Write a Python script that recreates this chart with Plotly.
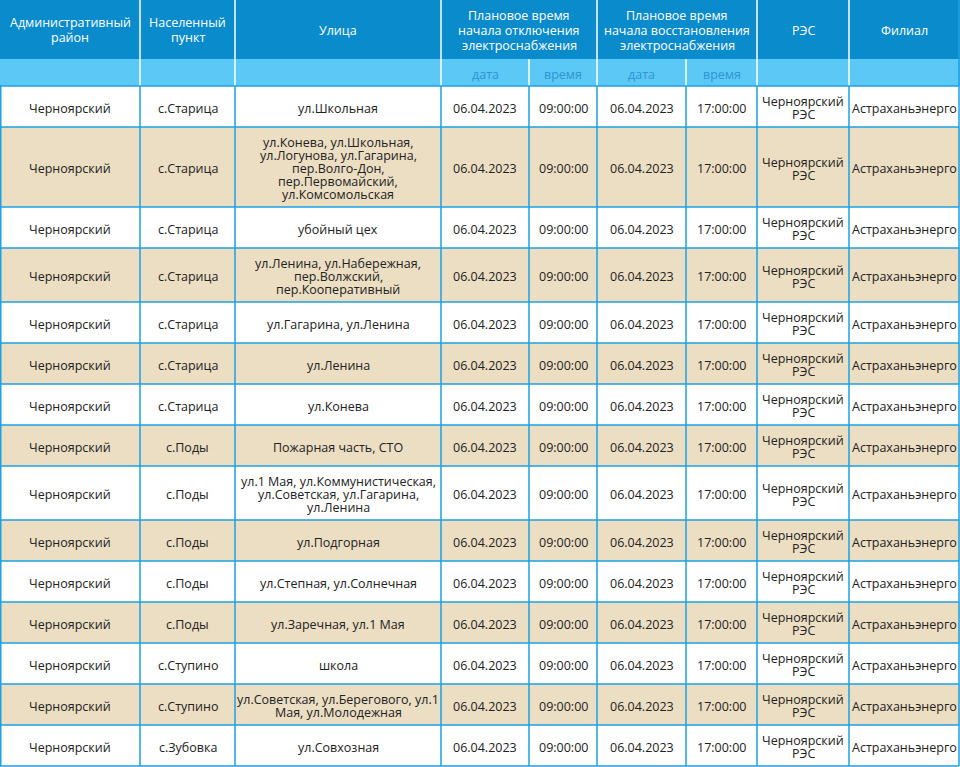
import plotly.graph_objects as go

# ---------------- data ----------------
headers = ["Административный<br>район", "Населенный<br>пункт", "Улица",
           "Плановое время<br>начала отключения<br>электроснабжения",
           "Плановое время<br>начала восстановления<br>электроснабжения",
           "РЭС", "Филиал"]
subheaders = ["", "", "", "дата", "время", "дата", "время", "", ""]

districts = ["Черноярский"] * 15
settlements = ["с.Старица"] * 7 + ["с.Поды"] * 5 + ["с.Ступино"] * 2 + ["с.Зубовка"]
streets = [
    "ул.Школьная",
    "ул.Конева, ул.Школьная,<br>ул.Логунова, ул.Гагарина,<br>пер.Волго-Дон,<br>пер.Первомайский,<br>ул.Комсомольская",
    "убойный цех",
    "ул.Ленина, ул.Набережная,<br>пер.Волжский,<br>пер.Кооперативный",
    "ул.Гагарина, ул.Ленина",
    "ул.Ленина",
    "ул.Конева",
    "Пожарная часть, СТО",
    "ул.1 Мая, ул.Коммунистическая,<br>ул.Советская, ул.Гагарина,<br>ул.Ленина",
    "ул.Подгорная",
    "ул.Степная, ул.Солнечная",
    "ул.Заречная, ул.1 Мая",
    "школа",
    "ул.Советская, ул.Берегового, ул.1<br>Мая, ул.Молодежная",
    "ул.Совхозная",
]
off_dates = ["06.04.2023"] * 15
off_times = ["09:00:00"] * 15
on_dates = ["06.04.2023"] * 15
on_times = ["17:00:00"] * 15
res = ["Черноярский<br>РЭС"] * 15
branch = ["Астраханьэнерго"] * 15

# ---------------- layout constants ----------------
W, H = 960, 767
col_edges = [0, 140, 235, 441, 529, 597, 686, 757, 849, 959]
HEAD_BOTTOM = 59
SUB_BOTTOM = 86
LINE_H = 13
TEXT_DY = 1.5
HEAD_BG = "#0a8bcb"
SUB_BG = "#5bc8f5"
BORDER = "#1ba1e4"
BEIGE = "#ecdec2"
TXT = "#222222"
SUB_TXT = "#2f95d3"
FONT = "Open Sans"
FS = 12.5

columns = [districts, settlements, streets, off_dates, off_times, on_dates, on_times, res, branch]

# row heights from number of text lines
row_tops = []
row_heights = []
y = SUB_BOTTOM
for i in range(len(districts)):
    n = max(max(len(c[i].split("<br>")) for c in columns), 2)
    h = 41 + (n - 2) * LINE_H
    row_tops.append(y)
    row_heights.append(h)
    y += h
BOTTOM = y

shapes = []
annotations = []


def add_text(x, yc, text, color, size=FS, lh=LINE_H):
    lines = text.split("<br>")
    n = len(lines)
    for k, ln in enumerate(lines):
        annotations.append(dict(x=x, y=yc + TEXT_DY + (k - (n - 1) / 2) * lh, text=ln, showarrow=False,
                                xref="x", yref="y", xanchor="center", yanchor="middle",
                                borderpad=0,
                                font=dict(family=FONT, size=size, color=color)))


# header backgrounds
shapes.append(dict(type="rect", x0=0, x1=W, y0=0, y1=HEAD_BOTTOM, fillcolor=HEAD_BG, line_width=0, layer="below"))
shapes.append(dict(type="rect", x0=0, x1=W, y0=HEAD_BOTTOM, y1=SUB_BOTTOM, fillcolor=SUB_BG, line_width=0, layer="below"))

# row backgrounds
for i, (t, h) in enumerate(zip(row_tops, row_heights)):
    shapes.append(dict(type="rect", x0=0, x1=W, y0=t, y1=t + h,
                       fillcolor=("white" if i % 2 == 0 else BEIGE), line_width=0, layer="below"))

# header column separators (white)
head_spans = [(0, 1), (1, 2), (2, 3), (3, 5), (5, 7), (7, 8), (8, 9)]
for a, b in head_spans[1:]:
    xe = col_edges[a]
    shapes.append(dict(type="line", x0=xe, x1=xe, y0=0, y1=SUB_BOTTOM, line=dict(color="white", width=1.5)))
for idx in (4, 6):
    xe = col_edges[idx]
    shapes.append(dict(type="line", x0=xe, x1=xe, y0=HEAD_BOTTOM, y1=SUB_BOTTOM, line=dict(color="white", width=1.5)))

# body grid lines
for xe in col_edges:
    xx = xe + (0.75 if xe == 0 else 0)
    shapes.append(dict(type="line", x0=xx, x1=xx, y0=SUB_BOTTOM, y1=BOTTOM, line=dict(color=BORDER, width=1.5)))
shapes.append(dict(type="line", x0=col_edges[-1], x1=col_edges[-1], y0=0, y1=SUB_BOTTOM,
                   line=dict(color=BORDER, width=1.5)))
for t in row_tops + [BOTTOM]:
    shapes.append(dict(type="line", x0=0, x1=col_edges[-1], y0=t, y1=t, line=dict(color=BORDER, width=1.5)))

# header texts
for (a, b), txt in zip(head_spans, headers):
    add_text((col_edges[a] + col_edges[b]) / 2, HEAD_BOTTOM / 2 - 1, txt, "white", size=FS, lh=15)
for j, txt in enumerate(subheaders):
    if txt:
        add_text((col_edges[j] + col_edges[j + 1]) / 2, (HEAD_BOTTOM + SUB_BOTTOM) / 2, txt, SUB_TXT, size=FS)

# body texts
for i, (t, h) in enumerate(zip(row_tops, row_heights)):
    yc = t + h / 2
    for j, col in enumerate(columns):
        add_text((col_edges[j] + col_edges[j + 1]) / 2, yc, col[i], TXT)

fig = go.Figure()
fig.add_trace(go.Scatter(x=[0, W], y=[0, H], mode="markers", marker=dict(opacity=0), hoverinfo="skip", showlegend=False))
fig.update_layout(
    width=W, height=H, margin=dict(l=0, r=0, t=0, b=0),
    paper_bgcolor="white", plot_bgcolor="white",
    xaxis=dict(range=[0, W], visible=False, fixedrange=True),
    yaxis=dict(range=[H, 0], visible=False, fixedrange=True),
    shapes=shapes, annotations=annotations, showlegend=False,
)
fig.write_html("out.html", config={"displayModeBar": False},
               post_script="document.body.style.margin='0';document.body.style.overflow='hidden';")
